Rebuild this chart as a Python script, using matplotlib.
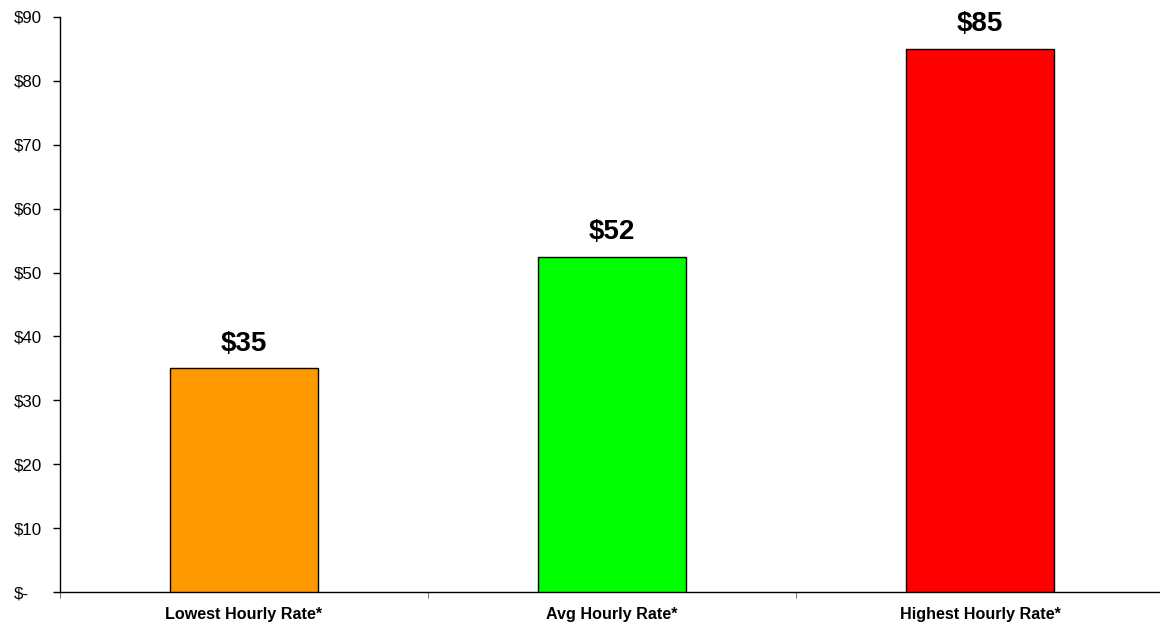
import matplotlib

matplotlib.use("Agg")

import matplotlib.pyplot as plt

categories = ["Lowest Hourly Rate*", "Avg Hourly Rate*", "Highest Hourly Rate*"]
rates = [35, 52.4, 85]
value_labels = ["$35", "$52", "$85"]
bar_colors = ["#ff9900", "#00ff00", "#ff0000"]
y_ticks = [0, 10, 20, 30, 40, 50, 60, 70, 80, 90]
y_tick_labels = ["$-", "$10", "$20", "$30", "$40", "$50", "$60", "$70", "$80", "$90"]

plt.rcParams["font.family"] = ["Liberation Sans", "DejaVu Sans"]

fig = plt.figure(figsize=(11.6, 6.23), dpi=100)
ax = fig.add_axes([60 / 1160, 31 / 623, 1104 / 1160, 575 / 623])

x = range(len(categories))
ax.bar(x, rates, width=0.4, color=bar_colors, edgecolor="black", linewidth=1.0, zorder=3)

for xi, val, lbl in zip(x, rates, value_labels):
    ax.annotate(lbl, (xi, val), xytext=(0, 8.5), textcoords="offset points",
                ha="center", va="bottom", fontsize=20, fontweight="bold")

ax.set_xlim(-0.5, len(categories) - 0.5)
ax.set_ylim(0, 90)

ax.set_yticks(y_ticks)
ax.set_yticklabels(y_tick_labels, fontsize=12.2)
ax.tick_params(axis="y", direction="out", length=5, width=1, pad=28)
for t in ax.get_yticklabels():
    t.set_horizontalalignment("left")

ax.set_xticks(list(x))
ax.set_xticklabels(categories, fontsize=11.6, fontweight="bold")
ax.tick_params(axis="x", which="major", length=0, pad=11)
ax.set_xticks([i - 0.5 for i in range(len(categories))], minor=True)
ax.tick_params(axis="x", which="minor", direction="out", length=4.5, width=0.8, color="#808080")

for name in ("top", "right"):
    ax.spines[name].set_visible(False)
ax.spines["left"].set_linewidth(1)
ax.spines["bottom"].set_linewidth(1)

fig.savefig("out.png", dpi=100, facecolor="white")
